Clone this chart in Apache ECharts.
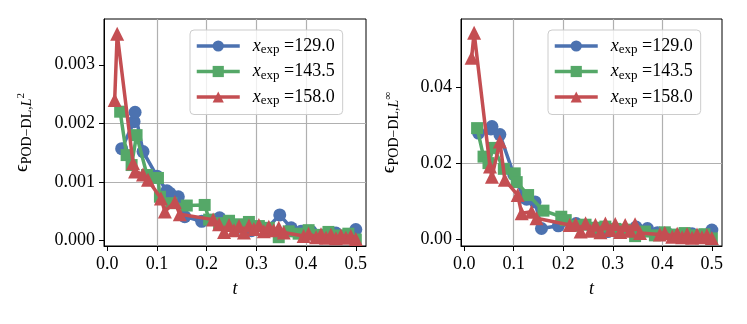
<!DOCTYPE html>
<html><head><meta charset="utf-8">
<script src="https://cdn.jsdelivr.net/npm/echarts@6/dist/echarts.min.js"></script>
<style>html,body{margin:0;padding:0;background:#fff}#c{width:747px;height:324px}</style>
</head><body><div id="c"></div>
<script>
// ---- data ----
const seriesNames = ['129.0', '143.5', '158.0'];
const xTicks = [0, 0.1, 0.2, 0.3, 0.4, 0.5];
const yTicksL2 = [0, 0.001, 0.002, 0.003];
const yTicksLinf = [0, 0.02, 0.04];

const t129 = [0.029, 0.054, 0.056, 0.072, 0.100, 0.120, 0.126, 0.143, 0.156, 0.190, 0.226, 0.260, 0.290, 0.320, 0.347, 0.370, 0.390, 0.410, 0.440, 0.460, 0.480, 0.500];
const l2_129 = [0.00157, 0.00203, 0.00219, 0.00152, 0.00110, 0.00085, 0.00081, 0.00075, 0.00041, 0.00033, 0.00039, 0.00022, 0.00017, 0.00020, 0.00044, 0.00022, 0.00016, 0.00016, 0.00011, 0.00013, 0.00009, 0.00019];
const linf_129 = [0.0279, 0.0290, 0.0296, 0.0275, 0.0170, 0.0110, 0.0105, 0.0098, 0.0028, 0.0035, 0.0041, 0.0025, 0.0020, 0.0022, 0.0032, 0.0028, 0.0017, 0.0015, 0.0012, 0.0014, 0.0010, 0.0024];

const t143 = [0.026, 0.039, 0.049, 0.059, 0.080, 0.102, 0.106, 0.129, 0.160, 0.196, 0.205, 0.225, 0.245, 0.265, 0.285, 0.305, 0.325, 0.345, 0.365, 0.385, 0.405, 0.425, 0.445, 0.465, 0.485, 0.500];
const l2_143 = [0.00220, 0.00146, 0.00129, 0.00180, 0.00112, 0.00107, 0.00075, 0.00064, 0.00060, 0.00061, 0.00036, 0.00030, 0.00034, 0.00028, 0.00032, 0.00025, 0.00022, 0.00006, 0.00016, 0.00012, 0.00018, 0.00010, 0.00015, 0.00009, 0.00012, 0.00002];
const linf_143 = [0.0292, 0.0217, 0.0200, 0.0240, 0.0185, 0.0173, 0.0150, 0.0116, 0.0075, 0.0059, 0.0050, 0.0035, 0.0038, 0.0030, 0.0033, 0.0027, 0.0025, 0.0008, 0.0020, 0.0010, 0.0018, 0.0012, 0.0016, 0.0010, 0.0013, 0.0002];

const t158 = [0.015, 0.020, 0.052, 0.056, 0.072, 0.082, 0.108, 0.116, 0.136, 0.146, 0.213, 0.225, 0.235, 0.245, 0.255, 0.265, 0.275, 0.285, 0.295, 0.305, 0.315, 0.325, 0.335, 0.345, 0.355, 0.395, 0.405, 0.420, 0.430, 0.440, 0.450, 0.460, 0.470, 0.480, 0.490, 0.500];
const l2_158 = [0.00240, 0.00353, 0.00132, 0.00118, 0.00113, 0.00104, 0.00072, 0.00050, 0.00066, 0.00045, 0.00036, 0.00028, 0.00015, 0.00027, 0.00018, 0.00025, 0.00014, 0.00026, 0.00020, 0.00027, 0.00016, 0.00024, 0.00018, 0.00022, 0.00014, 0.00008, 0.00012, 0.00006, 0.00011, 0.00005, 0.00010, 0.00004, 0.00009, 0.00005, 0.00008, 0.00003];
const linf_158 = [0.0477, 0.0543, 0.0191, 0.0164, 0.0257, 0.0156, 0.0116, 0.0068, 0.0072, 0.0055, 0.0037, 0.0040, 0.0020, 0.0042, 0.0022, 0.0038, 0.0018, 0.0041, 0.0024, 0.0040, 0.0019, 0.0037, 0.0022, 0.0039, 0.0016, 0.0012, 0.0016, 0.0006, 0.0014, 0.0005, 0.0013, 0.0004, 0.0012, 0.0005, 0.0010, 0.0003];

// ---- styling ----
const FONT = "'Liberation Serif','DejaVu Serif',serif";
const colors = ['#4C72B0', '#55A868', '#C44E52'];
const symbols = ['circle', 'rect', 'triangle'];
const symSizes = [13, 12, 14];
const FS = 18;

function pairs(t, v) { return t.map((x, i) => [x, v[i]]); }

function xAxis(gi) {
  return {
    type: 'value', gridIndex: gi, min: -0.0065, max: 0.5205, splitNumber: 5,
    name: 't', nameLocation: 'middle', nameGap: 34,
    nameTextStyle: { fontFamily: FONT, fontSize: FS, fontStyle: 'italic', color: '#000' },
    axisLine: { show: true, onZero: false, lineStyle: { color: '#000', width: 1 } },
    axisTick: { show: true, length: 5, customValues: xTicks, lineStyle: { color: '#000' } },
    axisLabel: { customValues: xTicks, margin: 9, fontFamily: FONT, fontSize: FS, color: '#000',
      formatter: v => v.toFixed(1) },
    splitLine: { show: true, showMinLine: false, showMaxLine: false, lineStyle: { color: '#b0b0b0', width: 1.2 } }
  };
}
function yAxis(gi, min, max, ticks, dec, nameRich, gap) {
  return {
    type: 'value', gridIndex: gi, min: min, max: max,
    name: nameRich, nameLocation: 'middle', nameGap: gap, nameRotate: 90,
    nameTextStyle: {
      fontFamily: FONT, color: '#000',
      rich: {
        e: { fontFamily: FONT, fontSize: 19, color: '#000' },
        s: { fontFamily: FONT, fontSize: 14, color: '#000', padding: [9, 0, 0, 0] },
        si: { fontFamily: FONT, fontSize: 14, fontStyle: 'italic', color: '#000', padding: [9, 0, 0, 0] },
        sup: { fontFamily: FONT, fontSize: 11, color: '#000', padding: [0, 0, 2, 0] }
      }
    },
    axisLine: { show: true, onZero: false, lineStyle: { color: '#000', width: 1 } },
    axisTick: { show: true, length: 5, customValues: ticks, lineStyle: { color: '#000' } },
    axisLabel: { customValues: ticks, margin: 9, fontFamily: FONT, fontSize: FS, color: '#000',
      formatter: v => v.toFixed(dec) },
    splitLine: { show: true, showMinLine: false, showMaxLine: false, lineStyle: { color: '#b0b0b0', width: 1.2 } }
  };
}
function legend(left) {
  return {
    left: left, top: 30, orient: 'vertical',
    data: seriesNames,
    itemWidth: 43, itemHeight: 14, itemGap: 6,
    padding: [7, 8, 7, 5],
    lineStyle: { width: 3.5 },
    backgroundColor: 'rgba(255,255,255,0.8)', borderColor: '#cccccc', borderWidth: 1, borderRadius: 4,
    formatter: n => '{x|x}{s|exp}{v| =' + n + '}',
    textStyle: {
      fontFamily: FONT, fontSize: FS, color: '#000', padding: [0, 0, 0, 8],
      rich: {
        x: { fontFamily: FONT, fontSize: FS, fontStyle: 'italic', color: '#000' },
        s: { fontFamily: FONT, fontSize: 13, color: '#000', padding: [8, 0, 0, 0] },
        v: { fontFamily: FONT, fontSize: FS, color: '#000' }
      }
    }
  };
}

const data = [
  [pairs(t129, l2_129), pairs(t143, l2_143), pairs(t158, l2_158)],
  [pairs(t129, linf_129), pairs(t143, linf_143), pairs(t158, linf_158)]
];
const series = [];
for (let p = 0; p < 2; p++) {
  for (let s = 0; s < 3; s++) {
    series.push({
      type: 'line', name: seriesNames[s], xAxisIndex: p, yAxisIndex: p,
      data: data[p][s], symbol: symbols[s], symbolSize: symSizes[s], showAllSymbol: true,
      lineStyle: { color: colors[s], width: 3.5 }, itemStyle: { color: colors[s] },
      animation: false, silent: true, z: 2 + s
    });
  }
}

const chart = echarts.init(document.getElementById('c'), null, { renderer: 'canvas' });
chart.setOption({
  animation: false,
  backgroundColor: '#fff',
  grid: [
    { left: 104, top: 19, width: 262, height: 227, show: true, borderColor: '#000', borderWidth: 1, backgroundColor: '#fff' },
    { left: 461, top: 19, width: 261, height: 227, show: true, borderColor: '#000', borderWidth: 1, backgroundColor: '#fff' }
  ],
  xAxis: [xAxis(0), xAxis(1)],
  yAxis: [
    yAxis(0, -0.00009, 0.00378, yTicksL2, 3, '{e|ϵ}{s|POD−DL,}{si|L}{sup|2}', 70),
    yAxis(1, -0.0018, 0.0579, yTicksLinf, 2, '{e|ϵ}{s|POD−DL,}{si|L}{sup|∞}', 60)
  ],
  legend: [legend(190), legend(548)],
  series: series
});
</script></body></html>
